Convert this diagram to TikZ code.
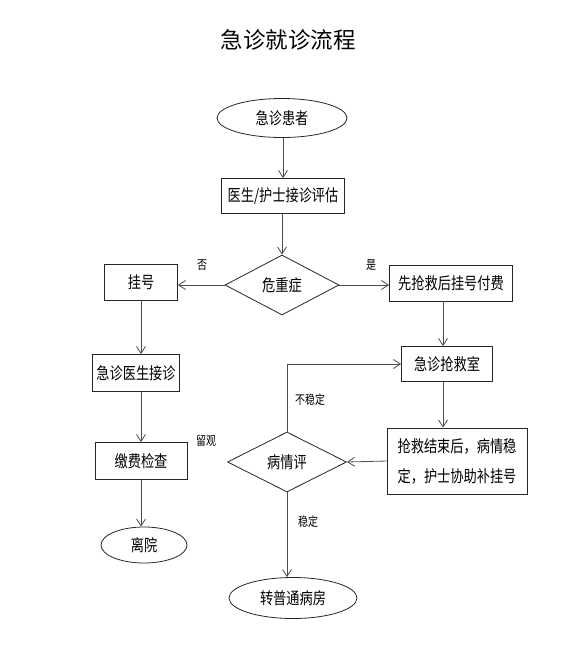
\documentclass[tikz,border=0pt]{standalone}
\usepackage{fontspec}
\newfontfamily\cjk[FakeStretch=0.8]{Noto Sans CJK SC}
\newfontfamily\cjktitle{Noto Sans CJK SC}
\usetikzlibrary{shapes.geometric,arrows.meta}
\begin{document}
\begin{tikzpicture}[x=1pt,y=-1pt,
  line width=0.8pt,
  box/.style={draw=black!85, rectangle, inner sep=0pt, font=\cjk\fontsize{16.5}{30}\selectfont},
  oval/.style={draw=black!85, ellipse, inner sep=0pt, font=\cjk\fontsize{16.5}{30}\selectfont},
  dia/.style={draw=black!85, diamond, inner sep=0pt, font=\cjk\fontsize{16.5}{30}\selectfont},
  lab/.style={inner sep=0pt, font=\cjk\fontsize{12.5}{14}\selectfont},
  arr/.style={draw=black!70, -{Straight Barb[length=7pt,width=9pt]}},
  ln/.style={draw=black!70}]
\useasboundingbox (0,0) rectangle (587,659);
\node[inner sep=0pt, font=\cjktitle\fontsize{22.5}{24}\selectfont] (title) at (288,40) {急诊就诊流程};

\node[oval, minimum width=130, minimum height=39] (patient) at (282,118) {急诊患者};
\node[box, minimum width=123, minimum height=35] (assess) at (283,196) {医生/护士接诊评估};
\node[dia, minimum width=114, minimum height=60] (crit) at (282,285) {危重症};
\node[box, minimum width=73, minimum height=36] (reg) at (141,282) {挂号};
\node[box, minimum width=123, minimum height=36] (rescue) at (451,283) {先抢救后挂号付费};
\node[box, minimum width=91, minimum height=35] (room) at (447,364) {急诊抢救室};
\node[box, minimum width=87, minimum height=37] (doctor) at (136,373) {急诊医生接诊};
\node[box, minimum width=92, minimum height=37] (pay) at (141,461) {缴费检查};
\node[oval, minimum width=86, minimum height=36] (leave) at (144,545) {离院};
\node[box, minimum width=140, minimum height=66, align=left] (after) at (457,461) {抢救结束后，病情稳\\定，护士协助补挂号};
\node[dia, minimum width=119, minimum height=60] (eval) at (287,462) {病情评};
\node[oval, minimum width=128, minimum height=41] (ward) at (293,598) {转普通病房};

\coordinate (turn) at (287,364);

\draw[arr] (patient.south -| assess.north) -- (assess.north);
\draw[arr] (assess.south -| crit.north) -- (crit.north);
\draw[arr] (crit.west) -- (crit.west -| reg.east);
\draw[arr] (crit.east) -- (crit.east -| rescue.west);
\draw[arr] (rescue.south -| 443,0) -- (room.north -| 443,0);
\draw[arr] (reg.south) -- (reg.south |- doctor.north);
\draw[arr] (doctor.south -| pay.north) -- (pay.north);
\draw[arr] (pay.south) -- (pay.south |- leave.north);
\draw[arr] (room.south -| 443,0) -- (after.north -| 443,0);
\draw[arr] (after.west) -- (eval.east);
\draw[arr] (eval.north) -- (turn) -- (room.west);
\draw[arr] (eval.south) -- (eval.south |- ward.north);

\node[lab] (no) at (202,265) {否};
\node[lab] (yes) at (371,265) {是};
\node[lab] (obs) at (206,441) {留观};
\node[lab] (unstable) at (310,400) {不稳定};
\node[lab] (stable) at (308,522) {稳定};
\end{tikzpicture}
\end{document}
